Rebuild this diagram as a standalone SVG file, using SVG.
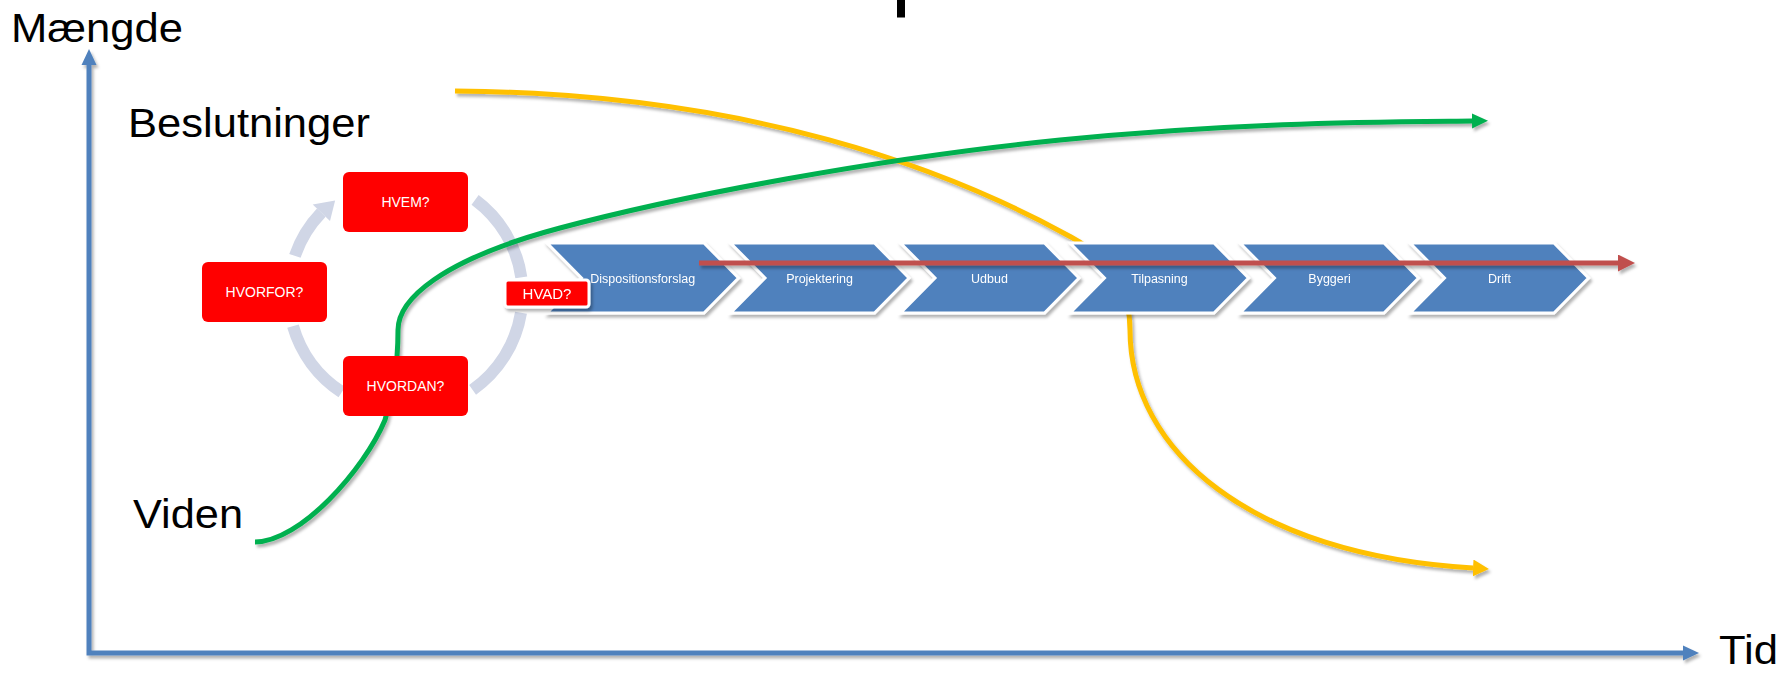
<svg xmlns="http://www.w3.org/2000/svg" width="1781" height="673" viewBox="0 0 1781 673">
<defs>
  <filter id="sh" filterUnits="userSpaceOnUse" x="0" y="0" width="1781" height="673">
    <feDropShadow dx="2" dy="3" stdDeviation="1.8" flood-color="#000" flood-opacity="0.3"/>
  </filter>
  <marker id="arrBlue" markerUnits="userSpaceOnUse" markerWidth="16" markerHeight="16" viewBox="0 0 16 16" refX="0" refY="8" orient="auto-start-reverse">
    <path d="M0,0.5 L16,8 L0,15.5 z" fill="#4F81BD"/>
  </marker>
  <marker id="arrRed" markerUnits="userSpaceOnUse" markerWidth="17" markerHeight="17" viewBox="0 0 17 17" refX="0" refY="8.5" orient="auto">
    <path d="M0,0 L17,8.5 L0,17 z" fill="#C0504D"/>
  </marker>
  <marker id="arrGreen" markerUnits="userSpaceOnUse" markerWidth="16" markerHeight="16" viewBox="0 0 16 16" refX="0" refY="8" orient="auto">
    <path d="M0,0.5 L16,8 L0,15.5 z" fill="#00B050"/>
  </marker>
  <marker id="arrYellow" markerUnits="userSpaceOnUse" markerWidth="16" markerHeight="17" viewBox="0 0 16 17" refX="0" refY="8.5" orient="auto">
    <path d="M0,0 L16,8.5 L0,17 z" fill="#FFC000"/>
  </marker>
</defs>
<style>
  .big { font-family: "Liberation Sans", Arial, sans-serif; font-size: 41px; fill: #000; }
  .box { fill: #FF0000; }
  .boxtxt { font-family: "Liberation Sans", Arial, sans-serif; font-size: 14px; fill: #fff; text-anchor: middle; }
  .ring { fill: none; stroke: #D0D6E6; stroke-width: 12; }
  .chev { fill: #4F81BD; stroke: #fff; stroke-width: 3; stroke-linejoin: miter; }
  .chevtxt { font-family: "Liberation Sans", Arial, sans-serif; font-size: 12.5px; fill: #fff; text-anchor: middle; }
  .line { fill: none; stroke-width: 5; }
</style>

<rect x="0" y="0" width="1781" height="673" fill="#fff"/>
<rect id="title-fragment" x="897" y="0" width="8" height="17.5" fill="#000"/>

<g id="labels">
  <text class="big" x="11" y="42" textLength="172" lengthAdjust="spacingAndGlyphs">Mængde</text>
  <text class="big" x="128" y="137" textLength="242" lengthAdjust="spacingAndGlyphs">Beslutninger</text>
  <text class="big" x="133" y="528" textLength="110" lengthAdjust="spacingAndGlyphs">Viden</text>
  <text class="big" x="1719" y="664" textLength="59" lengthAdjust="spacingAndGlyphs">Tid</text>
</g>

<g id="axes" filter="url(#sh)">
  <path class="line" d="M89,65 V653 H1683" stroke="#4F81BD" marker-start="url(#arrBlue)" marker-end="url(#arrBlue)"/>
</g>

<g id="cycle-ring">
  <path class="ring" d="M294.9,255.9 A117,117 0 0 1 321.3,212.7"/>
  <path d="M330,221.1 L312.7,204.4 L335.1,200.6 z" fill="#D0D6E6"/>
  <path class="ring" d="M475.1,199.9 A117,117 0 0 1 521.3,277.3"/>
  <path class="ring" d="M521,312.7 A117,117 0 0 1 472.6,389.8"/>
  <path class="ring" d="M341.8,392.1 A117,117 0 0 1 293,326.2"/>
</g>

<g id="connectors" filter="url(#sh)">
  <path id="yellow-curve" class="line" stroke="#FFC000" marker-end="url(#arrYellow)" d="M455,91 C750,93 950,170 1071,237 C1110,258 1130,290 1130,330 C1130,450 1250,555 1473,568"/>
  <path id="green-curve" class="line" stroke="#00B050" marker-end="url(#arrGreen)" d="M255,542 C300,542 364,470 385,420 C392,395 398,370 398,330 C398,300 440,260 560,228 C680,196 880,158 1060,140 C1240,122 1380,122 1472,121"/>
</g>

<g id="chevrons" filter="url(#sh)">
  <g id="chev-dispositionsforslag">
    <polygon class="chev" points="547,243 704,243 738.5,278 704,313 547,313 581.5,278"/>
    <text class="chevtxt" x="642.7" y="282.5">Dispositionsforslag</text>
  </g>
  <g id="chev-projektering">
    <polygon class="chev" points="730.5,243 874.5,243 909,278 874.5,313 730.5,313 765,278"/>
    <text class="chevtxt" x="819.5" y="282.5">Projektering</text>
  </g>
  <g id="chev-udbud">
    <polygon class="chev" points="900.5,243 1044.5,243 1079,278 1044.5,313 900.5,313 935,278"/>
    <text class="chevtxt" x="989.5" y="282.5">Udbud</text>
  </g>
  <g id="chev-tilpasning">
    <polygon class="chev" points="1070,243 1214,243 1248.5,278 1214,313 1070,313 1104.5,278"/>
    <text class="chevtxt" x="1159.5" y="282.5">Tilpasning</text>
  </g>
  <g id="chev-byggeri">
    <polygon class="chev" points="1240,243 1384,243 1418.5,278 1384,313 1240,313 1274.5,278"/>
    <text class="chevtxt" x="1329.5" y="282.5">Byggeri</text>
  </g>
  <g id="chev-drift">
    <polygon class="chev" points="1410,243 1554,243 1588.5,278 1554,313 1410,313 1444.5,278"/>
    <text class="chevtxt" x="1499.5" y="282.5">Drift</text>
  </g>
</g>

<g id="timeline" filter="url(#sh)">
  <path class="line" stroke="#C0504D" marker-end="url(#arrRed)" d="M699,263 H1618"/>
</g>

<g id="node-hvem">
  <rect class="box" x="343" y="172" width="125" height="60" rx="6"/>
  <text class="boxtxt" x="405.5" y="207">HVEM?</text>
</g>
<g id="node-hvorfor">
  <rect class="box" x="202" y="262" width="125" height="60" rx="6"/>
  <text class="boxtxt" x="264.5" y="297">HVORFOR?</text>
</g>
<g id="node-hvordan">
  <rect class="box" x="343" y="356" width="125" height="60" rx="6"/>
  <text class="boxtxt" x="405.5" y="391">HVORDAN?</text>
</g>
<g id="node-hvad" filter="url(#sh)">
  <rect class="box" x="505" y="280" width="84" height="27" rx="3" stroke="#fff" stroke-width="3"/>
  <text class="boxtxt" x="547" y="298.5" style="font-size:15px">HVAD?</text>
</g>
</svg>
